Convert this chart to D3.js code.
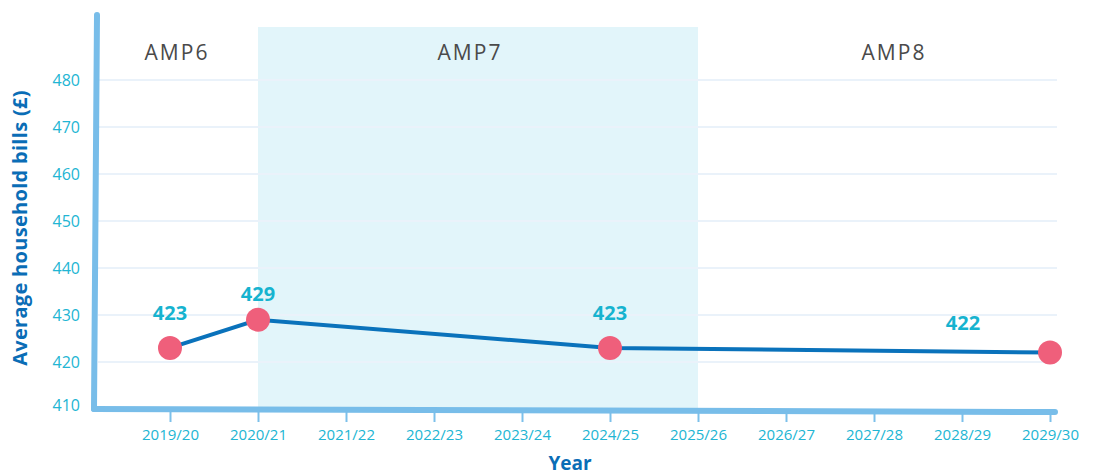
<!DOCTYPE html>
<html>
<head>
<meta charset="utf-8">
<script src="https://cdn.jsdelivr.net/npm/d3@7"></script>
<style>
  body { margin: 0; background: #fff; }
  text { font-family: "Open Sans", "Noto Sans", sans-serif; }
</style>
</head>
<body>
<script>
const svgWidth = 1094;
const svgHeight = 475;

// data
const years = ["2019/20", "2020/21", "2021/22", "2022/23", "2023/24", "2024/25",
               "2025/26", "2026/27", "2027/28", "2028/29", "2029/30"];
const pointYears = ["2019/20", "2020/21", "2024/25", "2029/30"];
const bills = [423, 429, 423, 422];
const yTicks = [410, 420, 430, 440, 450, 460, 470, 480];
const periods = ["AMP6", "AMP7", "AMP8"];
const periodStart = ["2019/20", "2020/21", "2025/26"];
const periodEnd = ["2020/21", "2025/26", "2029/30"];

const svg = d3.select("body")
  .append("svg")
  .attr("width", svgWidth)
  .attr("height", svgHeight);

const xScale = d3.scalePoint()
  .domain(years)
  .range([170, 1050]);

const yScale = d3.scaleLinear()
  .domain([410, 480])
  .range([409, 80]);

// AMP7 shaded band
svg.append("rect")
  .attr("x", xScale("2020/21"))
  .attr("y", 27)
  .attr("width", xScale("2025/26") - xScale("2020/21"))
  .attr("height", yScale(410) - 27)
  .attr("fill", "#e2f5fa");

// gridlines
svg.append("g")
  .selectAll("line")
  .data(yTicks.slice(1))
  .enter()
  .append("line")
  .attr("x1", 98)
  .attr("x2", 1057)
  .attr("y1", d => yScale(d))
  .attr("y2", d => yScale(d))
  .attr("stroke", "#eaf2fa")
  .attr("stroke-width", 2);

// y tick labels
svg.append("g")
  .selectAll("text")
  .data(yTicks)
  .enter()
  .append("text")
  .attr("x", 80)
  .attr("y", d => yScale(d) - (d === 410 ? 4 : 0))
  .attr("dy", "0.35em")
  .attr("text-anchor", "end")
  .attr("fill", "#22b5d3")
  .attr("font-size", 16)
  .text(d => d);

// x axis ticks and labels
const xAxis = d3.axisBottom(xScale).tickSize(10).tickPadding(7);
const xg = svg.append("g")
  .attr("transform", "translate(0, 412)")
  .call(xAxis);
xg.select(".domain").remove();
xg.selectAll(".tick line").attr("stroke", "#7cc0ea").attr("stroke-width", 2);
xg.selectAll(".tick text")
  .attr("fill", "#22b5d3")
  .attr("font-size", 15)
  .attr("font-family", "'Open Sans', 'Noto Sans', sans-serif");

// axis lines
svg.append("line")
  .attr("x1", 97).attr("y1", 15)
  .attr("x2", 94).attr("y2", 409)
  .attr("stroke", "#78bde9")
  .attr("stroke-width", 6)
  .attr("stroke-linecap", "round");
svg.append("line")
  .attr("x1", 94).attr("y1", 409)
  .attr("x2", 1055).attr("y2", 412)
  .attr("stroke", "#78bde9")
  .attr("stroke-width", 6)
  .attr("stroke-linecap", "round");

// period labels
svg.append("g")
  .selectAll("text")
  .data(periods)
  .enter()
  .append("text")
  .attr("x", (d, i) => i === 0 ? 177 : (xScale(periodStart[i]) + xScale(periodEnd[i])) / 2 + (i === 2 ? 20 : -8))
  .attr("y", 53)
  .attr("dy", "0.35em")
  .attr("text-anchor", "middle")
  .attr("fill", "#4a4a4a")
  .attr("font-size", 21)
  .attr("letter-spacing", 2)
  .attr("font-family", "'DejaVu Sans Condensed', sans-serif")
  .text(d => d);

// line
const line = d3.line()
  .x((d, i) => xScale(pointYears[i]))
  .y(d => yScale(d));

svg.append("path")
  .datum(bills)
  .attr("d", line)
  .attr("fill", "none")
  .attr("stroke", "#0a72bb")
  .attr("stroke-width", 4);

// dots
svg.append("g")
  .selectAll("circle")
  .data(bills)
  .enter()
  .append("circle")
  .attr("cx", (d, i) => xScale(pointYears[i]))
  .attr("cy", d => yScale(d))
  .attr("r", 12)
  .attr("fill", "#ef5f7b");

// value labels
const labelDx = [0, 0, 0, -87];
const labelDy = [-35, -26, -35, -30];
svg.append("g")
  .selectAll("text")
  .data(bills)
  .enter()
  .append("text")
  .attr("x", (d, i) => xScale(pointYears[i]) + labelDx[i])
  .attr("y", (d, i) => yScale(d) + labelDy[i])
  .attr("dy", "0.35em")
  .attr("text-anchor", "middle")
  .attr("fill", "#16b3cf")
  .attr("font-size", 20)
  .attr("font-weight", "bold")
  .text(d => d);

// axis titles
svg.append("text")
  .attr("transform", "translate(20, 228) rotate(-90)")
  .attr("dy", "0.35em")
  .attr("text-anchor", "middle")
  .attr("fill", "#0a6db6")
  .attr("font-size", 20)
  .attr("letter-spacing", 0.3)
  .attr("font-weight", "bold")
  .text("Average household bills (£)");

svg.append("text")
  .attr("x", 570)
  .attr("y", 463)
  .attr("dy", "0.35em")
  .attr("text-anchor", "middle")
  .attr("fill", "#0a6db6")
  .attr("font-size", 19)
  .attr("font-weight", "bold")
  .text("Year");
</script>
</body>
</html>
